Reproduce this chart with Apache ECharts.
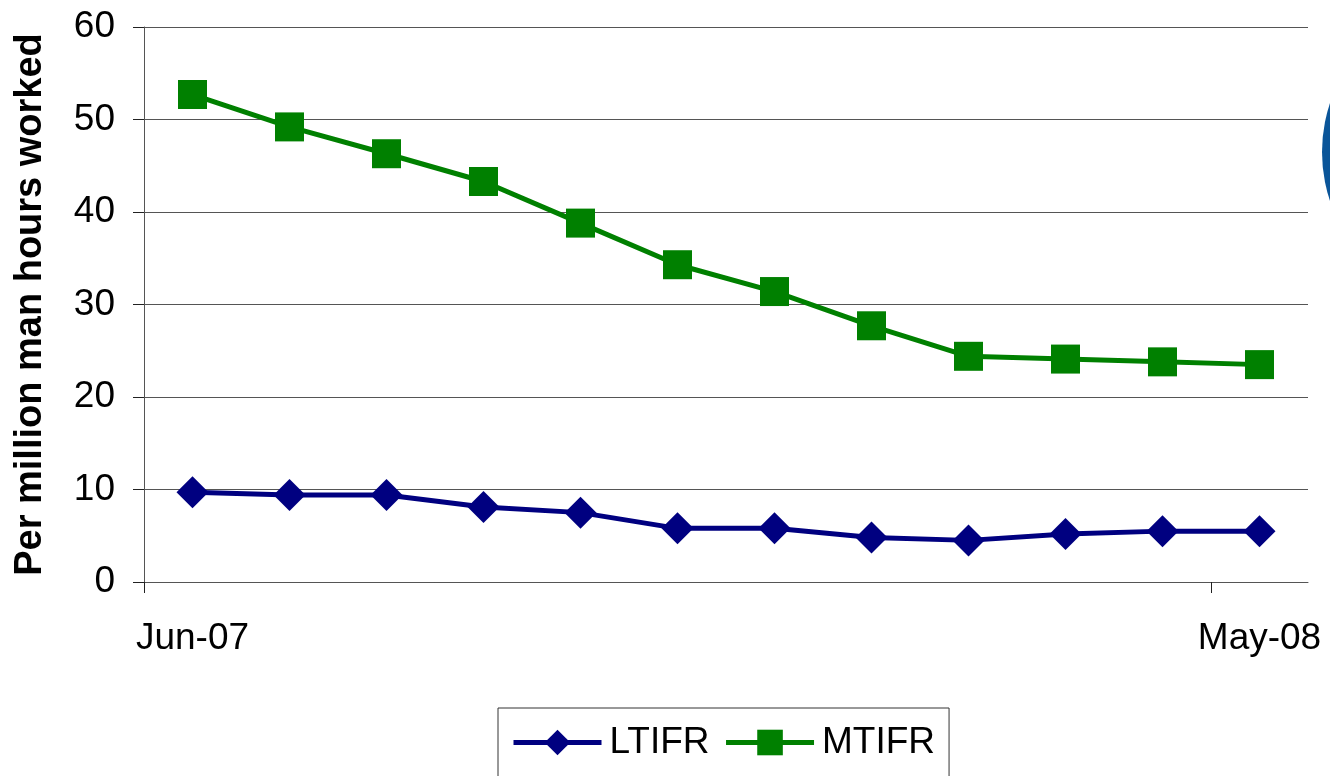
<!DOCTYPE html>
<html>
<head>
<meta charset="utf-8">
<script src="https://cdn.jsdelivr.net/npm/echarts@6/dist/echarts.min.js"></script>
<style>
  html, body { margin: 0; padding: 0; background: #fff; }
  #chart { width: 1330px; height: 776px; }
</style>
</head>
<body>
<div id="chart"></div>
<script>
const months = ["Jun-07", "Jul-07", "Aug-07", "Sep-07", "Oct-07", "Nov-07",
  "Dec-07", "Jan-08", "Feb-08", "Mar-08", "Apr-08", "May-08"];
const ltifr = [9.7, 9.4, 9.4, 8.1, 7.5, 5.8, 5.8, 4.8, 4.5, 5.2, 5.5, 5.5];
const mtifr = [52.7, 49.2, 46.3, 43.3, 38.8, 34.3, 31.4, 27.7, 24.4, 24.1, 23.8, 23.5];
const yTicks = [0, 10, 20, 30, 40, 50, 60];

const font = "'Liberation Sans', Arial, sans-serif";
const chart = echarts.init(document.getElementById("chart"));

// only first and last month get a label
const firstLast = (i) => i === 0 || i === months.length - 1;

const options = {
  animation: false,
  backgroundColor: "#fff",
  textStyle: { fontFamily: font },
  grid: { left: 144, right: 22, top: 27, bottom: 194, outerBoundsMode: "none", containLabel: false },
  xAxis: [
    {
      type: "category",
      data: months,
      boundaryGap: true,
      axisLine: { lineStyle: { color: "#555", width: 1 } },
      axisTick: { show: false },
      axisLabel: { interval: firstLast, margin: 38, fontSize: 37, color: "#000", fontFamily: font },
    },
    {
      // helper axis only for the two tick marks at the start of Jun-07 and May-08
      type: "value",
      position: "bottom",
      min: 0,
      max: months.length,
      axisLine: { show: false },
      axisLabel: { show: false },
      splitLine: { show: false },
      axisTick: {
        show: true,
        customValues: [0, months.length - 1],
        length: 11,
        lineStyle: { color: "#222", width: 1 },
      },
    },
  ],
  yAxis: {
    type: "value",
    min: yTicks[0],
    max: yTicks[yTicks.length - 1],
    interval: 10,
    name: "Per million man hours worked",
    nameLocation: "middle",
    nameGap: 94,
    nameTextStyle: { fontSize: 38, fontWeight: "bold", color: "#000", fontFamily: font },
    axisLine: { show: true, lineStyle: { color: "#555", width: 1 } },
    axisTick: { show: true, length: 11, lineStyle: { color: "#222", width: 1 } },
    axisLabel: { margin: 29, fontSize: 37, color: "#000", fontFamily: font },
    splitLine: { lineStyle: { color: "#555", width: 1 } },
  },
  legend: {
    left: 498,
    top: 708,
    padding: [16, 14, 30, 13],
    itemGap: 14,
    itemWidth: 88,
    itemHeight: 32,
    borderColor: "#333",
    borderWidth: 1,
    lineStyle: { width: 5 },
    textStyle: { fontSize: 37, color: "#000", fontFamily: font, padding: [0, 0, 0, 3] },
    data: ["LTIFR", "MTIFR"],
  },
  graphic: [
    {
      type: "circle",
      shape: { cx: 1476, cy: 152, r: 154 },
      style: { fill: "#0a5599" },
      silent: true,
    },
  ],
  series: [
    {
      name: "LTIFR",
      type: "line",
      xAxisIndex: 0,
      data: ltifr,
      color: "#000080",
      symbol: "diamond",
      symbolSize: [32, 32],
      lineStyle: { width: 5, color: "#000080" },
      itemStyle: { color: "#000080" },
    },
    {
      name: "MTIFR",
      type: "line",
      xAxisIndex: 0,
      data: mtifr,
      color: "#008000",
      symbol: "rect",
      symbolSize: 29,
      lineStyle: { width: 5, color: "#008000" },
      itemStyle: { color: "#008000" },
    },
  ],
};

chart.setOption(options);
</script>
</body>
</html>
